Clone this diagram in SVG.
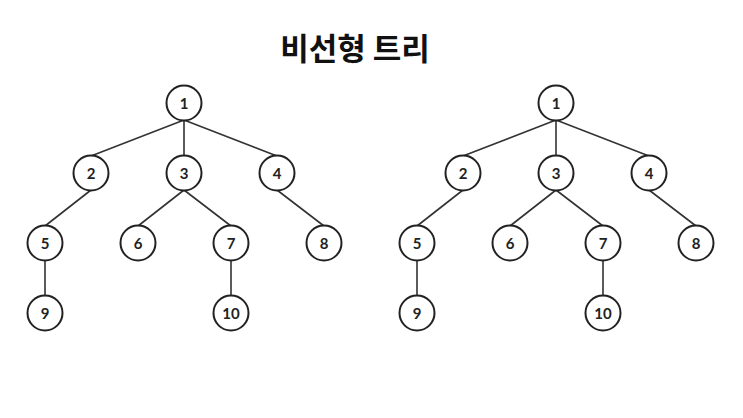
<svg xmlns="http://www.w3.org/2000/svg" width="743" height="418" viewBox="0 0 743 418">
<style>
.e{stroke:#333;stroke-width:1.6;fill:none}
.n circle{fill:#fff;stroke:#222;stroke-width:2}
.n text{font-family:Lato,"Noto Sans",sans-serif;font-weight:bold;font-size:15px;fill:#222;text-anchor:middle;dominant-baseline:central}
.t{font-family:"Noto Sans CJK KR",sans-serif;font-weight:bold;font-size:31px;fill:#111;text-anchor:middle}
</style>
<rect width="743" height="418" fill="#fff"/>
<text class="t" x="355" y="60">비선형 트리</text>
<g id="connectors">
<path class="e" d="M184 120L91 156M184 120V156M184 120L277 156M91 190L45 226M184 190L138 226M184 190L231 226M277 190L324 226M45 260V296M231 260V296"/>
<path class="e" d="M556 120L463 156M556 120V156M556 120L649 156M463 190L417 226M556 190L510 226M556 190L603 226M649 190L696 226M417 260V296M603 260V296"/>
</g>
<g id="L1" class="n"><circle cx="184" cy="103" r="17.5"/><text x="184" y="103">1</text></g>
<g id="L2" class="n"><circle cx="91" cy="173" r="17.5"/><text x="91" y="173">2</text></g>
<g id="L3" class="n"><circle cx="184" cy="173" r="17.5"/><text x="184" y="173">3</text></g>
<g id="L4" class="n"><circle cx="277" cy="173" r="17.5"/><text x="277" y="173">4</text></g>
<g id="L5" class="n"><circle cx="45" cy="243" r="17.5"/><text x="45" y="243">5</text></g>
<g id="L6" class="n"><circle cx="138" cy="243" r="17.5"/><text x="138" y="243">6</text></g>
<g id="L7" class="n"><circle cx="231" cy="243" r="17.5"/><text x="231" y="243">7</text></g>
<g id="L8" class="n"><circle cx="324" cy="243" r="17.5"/><text x="324" y="243">8</text></g>
<g id="L9" class="n"><circle cx="45" cy="313" r="17.5"/><text x="45" y="313">9</text></g>
<g id="L10" class="n"><circle cx="231" cy="313" r="17.5"/><text x="231" y="313">10</text></g>
<g id="R1" class="n"><circle cx="556" cy="103" r="17.5"/><text x="556" y="103">1</text></g>
<g id="R2" class="n"><circle cx="463" cy="173" r="17.5"/><text x="463" y="173">2</text></g>
<g id="R3" class="n"><circle cx="556" cy="173" r="17.5"/><text x="556" y="173">3</text></g>
<g id="R4" class="n"><circle cx="649" cy="173" r="17.5"/><text x="649" y="173">4</text></g>
<g id="R5" class="n"><circle cx="417" cy="243" r="17.5"/><text x="417" y="243">5</text></g>
<g id="R6" class="n"><circle cx="510" cy="243" r="17.5"/><text x="510" y="243">6</text></g>
<g id="R7" class="n"><circle cx="603" cy="243" r="17.5"/><text x="603" y="243">7</text></g>
<g id="R8" class="n"><circle cx="696" cy="243" r="17.5"/><text x="696" y="243">8</text></g>
<g id="R9" class="n"><circle cx="417" cy="313" r="17.5"/><text x="417" y="313">9</text></g>
<g id="R10" class="n"><circle cx="603" cy="313" r="17.5"/><text x="603" y="313">10</text></g>
</svg>
